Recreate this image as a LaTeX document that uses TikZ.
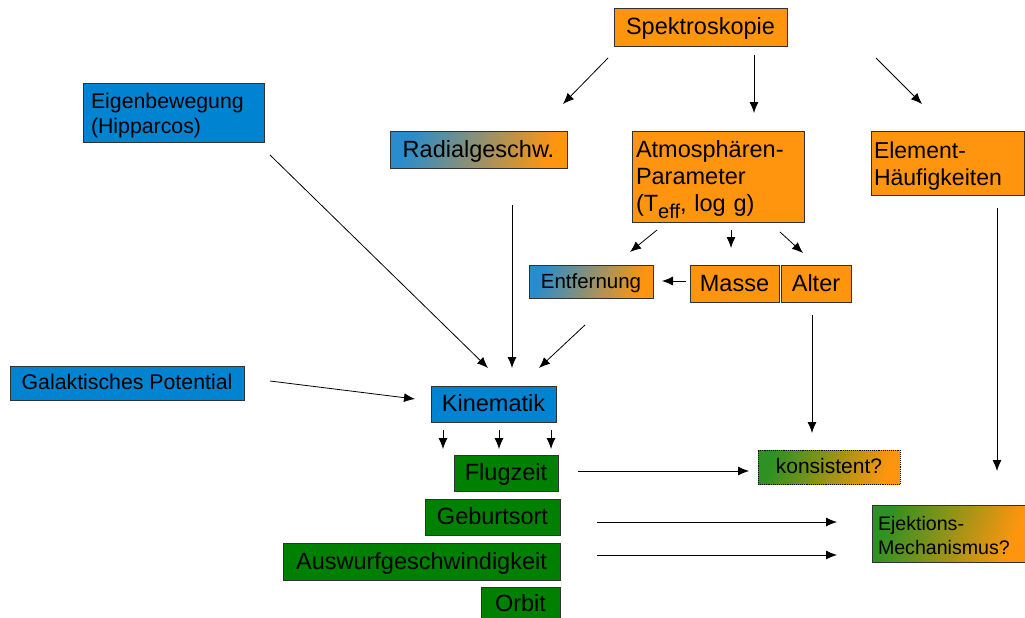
\documentclass[tikz,border=0pt]{standalone}
\usepackage{fontspec}
\setmainfont{Liberation Sans}
\usetikzlibrary{arrows.meta}
\definecolor{cblue}{RGB}{0,132,209}
\definecolor{cblueg}{RGB}{40,140,205}
\definecolor{corange}{RGB}{255,149,14}
\definecolor{cgreen}{RGB}{0,128,0}
\definecolor{cgreenl}{RGB}{45,145,35}
\definecolor{cborder}{RGB}{50,50,50}
\newcommand{\fs}[2]{\fontsize{#1}{#2}\selectfont}
\tikzset{
  box/.style={draw=cborder, line width=0.9pt, anchor=north west, inner sep=0pt, outer sep=0pt, font=\fs{23.5}{27}, text=black},
  one/.style={text height=18pt, text depth=3pt},
  onesm/.style={text height=16pt, text depth=3pt},
  bluebox/.style={box, fill=cblue},
  orangebox/.style={box, fill=corange},
  greenbox/.style={box, fill=cgreen},
  bogrd/.style={box, left color=cblueg, right color=corange, shading angle=70},
  gogrd/.style={box, left color=cgreenl, right color=corange, shading angle=70},
  arr/.style={-{Latex[length=11pt,width=9pt]}, line width=0.8pt, black},
}
\begin{document}
\begin{tikzpicture}[x=1pt,y=-1pt]
\useasboundingbox (0,0) rectangle (1025,618);
% nodes
\node[orangebox, one, minimum width=173pt, minimum height=38pt] (spek) at (614,8) {Spektroskopie};
\node[bluebox, minimum width=179pt, minimum height=59pt, text width=165pt, inner xsep=8pt, align=left, font=\fs{21.3}{25}] (eig) at (83,83) {\rule{0pt}{21pt}Eigenbewegung\\(Hipparcos)};
\node[bogrd, one, minimum width=177pt, minimum height=37pt] (rad) at (390,131) {Radialgeschw.};
\node[orangebox, minimum width=172pt, minimum height=91pt, text width=164pt, inner xsep=4pt, align=left, font=\fs{23.5}{27}] (atm) at (632,131) {\rule{0pt}{23pt}Atmosphären-\\Parameter\\(T\raisebox{-0.3em}{\fs{20}{20}eff}, log g)};
\node[orangebox, minimum width=153pt, minimum height=64pt, text width=147pt, inner xsep=3pt, align=left, font=\fs{23}{27}] (elem) at (871,131) {\rule{0pt}{22pt}Element-\\Häufigkeiten};
\node[bogrd, onesm, minimum width=124pt, minimum height=33pt, font=\fs{20.5}{24}] (entf) at (529,265) {Entfernung};
\node[orangebox, one, minimum width=89pt, minimum height=37pt] (masse) at (690,265) {Masse};
\node[orangebox, one, minimum width=70pt, minimum height=37pt] (alter) at (781,265) {Alter};
\node[bluebox, onesm, minimum width=234pt, minimum height=34pt, font=\fs{21.3}{25}] (gal) at (10,366) {Galaktisches Potential};
\node[bluebox, one, minimum width=125pt, minimum height=36pt] (kin) at (431,386) {Kinematik};
\node[greenbox, one, minimum width=104pt, minimum height=36pt] (flug) at (454,455) {Flugzeit};
\node[greenbox, one, minimum width=135pt, minimum height=36pt] (geb) at (425,499) {Geburtsort};
\node[greenbox, one, minimum width=277pt, minimum height=37pt] (ausw) at (283,543) {Auswurfgeschwindigkeit};
\node[greenbox, one, minimum width=79pt, minimum height=34pt] (orb) at (481,587) {Orbit};
\node[gogrd, onesm, densely dotted, draw=black, minimum width=142pt, minimum height=34pt, font=\fs{21}{25}] (kons) at (758,450) {konsistent?};
\node[gogrd, minimum width=153pt, minimum height=57pt, text width=141pt, inner xsep=6pt, align=left, font=\fs{19.6}{24}] (ejek) at (872,505) {\rule{0pt}{19pt}Ejektions-\\Mechanismus?};
% connector end points
\coordinate (a1s) at (608,58);  \coordinate (a1e) at (563,104);
\coordinate (a2s) at (754,55);  \coordinate (a2e) at (754,113);
\coordinate (a3s) at (876,58);  \coordinate (a3e) at (922,104);
\coordinate (b1s) at (657,230); \coordinate (b1e) at (630,252);
\coordinate (b2s) at (731,230); \coordinate (b2e) at (731,248);
\coordinate (b3s) at (780,232); \coordinate (b3e) at (803,253);
\coordinate (cms) at (686,281); \coordinate (cme) at (662,281);
\coordinate (d1s) at (270,155); \coordinate (d1e) at (488,368);
\coordinate (d2s) at (512,205); \coordinate (d2e) at (512,368);
\coordinate (d3s) at (585,325); \coordinate (d3e) at (539,368);
\coordinate (d4s) at (270,381); \coordinate (d4e) at (415,399);
\coordinate (k1s) at (443,430); \coordinate (k1e) at (443,449);
\coordinate (k2s) at (499,430); \coordinate (k2e) at (499,449);
\coordinate (k3s) at (551,430); \coordinate (k3e) at (551,449);
\coordinate (e1s) at (812,315); \coordinate (e1e) at (812,433);
\coordinate (e2s) at (578,471); \coordinate (e2e) at (749,471);
\coordinate (e3s) at (997,208); \coordinate (e3e) at (997,471);
\coordinate (e4s) at (597,522); \coordinate (e4e) at (837,522);
\coordinate (e5s) at (597,555); \coordinate (e5e) at (837,555);
% connectors
\draw[arr] (a1s) -- (a1e);
\draw[arr] (a2s) -- (a2e);
\draw[arr] (a3s) -- (a3e);
\draw[arr] (b1s) -- (b1e);
\draw[arr] (b2s) -- (b2e);
\draw[arr] (b3s) -- (b3e);
\draw[arr] (cms) -- (cme);
\draw[arr] (d1s) -- (d1e);
\draw[arr] (d2s) -- (d2e);
\draw[arr] (d3s) -- (d3e);
\draw[arr] (d4s) -- (d4e);
\draw[arr] (k1s) -- (k1e);
\draw[arr] (k2s) -- (k2e);
\draw[arr] (k3s) -- (k3e);
\draw[arr] (e1s) -- (e1e);
\draw[arr] (e2s) -- (e2e);
\draw[arr] (e3s) -- (e3e);
\draw[arr] (e4s) -- (e4e);
\draw[arr] (e5s) -- (e5e);
\end{tikzpicture}
\end{document}
